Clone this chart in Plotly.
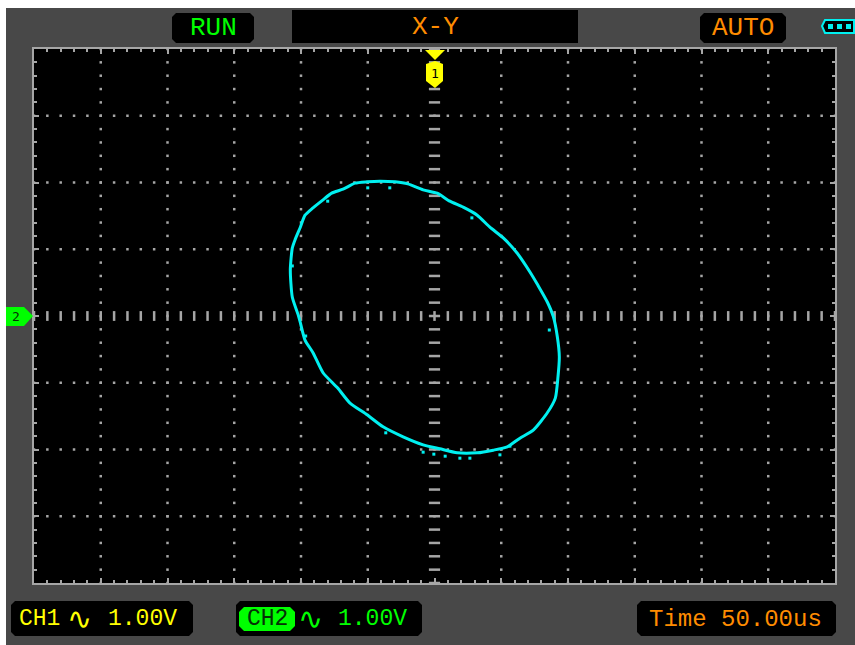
import plotly.graph_objects as go

# Lissajous trace, in divisions (CH1 = CH2 = 1.00 V/div)
ch1_volts = [-2.04,-2.13,-2.16,-2.13,-2.09,-2.01,-1.94,-1.82,-1.67,-1.54,-1.37,-1.19,-1.01,-0.82,-0.59,-0.40,-0.17,0.04,0.23,0.43,0.64,0.83,1.03,1.24,1.43,1.55,1.69,1.78,1.84,1.87,1.85,1.81,1.69,1.48,1.28,1.09,0.88,0.64,0.34,0.08,-0.17,-0.47,-0.77,-1.01,-1.27,-1.45,-1.67,-1.82,-1.94,-2.01,-2.04]
ch2_volts = [0.01,0.28,0.69,1.02,1.14,1.33,1.51,1.62,1.74,1.84,1.90,1.99,2.01,2.02,2.01,1.98,1.89,1.84,1.72,1.63,1.51,1.33,1.17,0.94,0.66,0.46,0.21,-0.01,-0.31,-0.61,-0.91,-1.23,-1.45,-1.71,-1.83,-1.96,-2.01,-2.05,-2.05,-1.99,-1.93,-1.81,-1.66,-1.48,-1.30,-1.08,-0.85,-0.55,-0.36,-0.10,0.01]
stray_ch1 = [-2.13,-1.0,-0.67,-1.6,0.56,-1.93,-0.73,-0.17,-0.01,0.16,0.38,0.53,0.98,1.13,1.72]
stray_ch2 = [0.75,1.92,1.92,1.72,1.47,-0.30,-1.75,-2.04,-2.07,-2.10,-2.13,-2.13,-2.08,-1.95,-0.21]

run_label = "RUN"
mode_label = "X-Y"
trigger_label = "AUTO"
ch1_label = "CH1"
ch2_label = "CH2"
wave_glyph = "∿"
ch_scale = "1.00V"
time_label = "Time 50.00us"

GRID = "#a6a6a6"
CYAN = "#00f0f0"
YELLOW = "#ffff00"
GREEN = "#00ff00"
ORANGE = "#ff8c00"
L, R, T, B = 34, 835, 49, 583

fx = lambda p: (p - L) / (R - L)
fy = lambda p: (B - p) / (B - T)


def rrect(x0, y0, x1, y1, r=4):
    return (f"M{fx(x0+r)},{fy(y0)} L{fx(x1-r)},{fy(y0)} L{fx(x1)},{fy(y0+r)} L{fx(x1)},{fy(y1-r)} "
            f"L{fx(x1-r)},{fy(y1)} L{fx(x0+r)},{fy(y1)} L{fx(x0)},{fy(y1-r)} L{fx(x0)},{fy(y0+r)} Z")


def poly(points):
    return "M" + " L".join(f"{fx(a)},{fy(b)}" for a, b in points) + " Z"


def box(path, fill="#000000", line=None):
    return dict(type="path", xref="paper", yref="paper", path=path, fillcolor=fill,
                line=dict(color=line or fill, width=2 if line else 0), layer="above")


shapes = [
    dict(type="rect", xref="paper", yref="paper", x0=fx(0), x1=fx(855), y0=fy(0), y1=fy(8),
         fillcolor="#ffffff", line_width=0, layer="below"),
    dict(type="rect", xref="paper", yref="paper", x0=fx(0), x1=fx(6), y0=fy(0), y1=fy(645),
         fillcolor="#ffffff", line_width=0, layer="below"),
    box(rrect(172, 13, 254, 43)),
    box(poly([(292, 10), (578, 10), (578, 43), (292, 43)])),
    box(rrect(700, 13, 786, 43)),
    box(rrect(11, 601, 193, 636)),
    box(rrect(236, 601, 422, 636)),
    box(rrect(637, 601, 836, 636)),
    box(rrect(239, 607, 295, 631, 5), fill=GREEN),
    # CH1 ground marker
    box(poly([(425, 50), (445, 50), (435, 60)]), fill=YELLOW),
    box(poly([(435, 61), (443, 64), (443, 81), (435, 88), (426, 81), (426, 64)]), fill=YELLOW),
    # CH2 ground marker
    box(poly([(6, 307), (24, 307), (33, 316), (24, 326), (6, 326)]), fill=GREEN),
    # battery
    box(poly([(825, 20), (854, 20), (854, 33), (825, 33), (822, 26)]), fill="#000000", line=CYAN),
]
for bx in (830, 839, 848):
    shapes.append(box(poly([(bx - 2, 24), (bx + 3, 24), (bx + 3, 29), (bx - 2, 29)]), fill=CYAN))


def note(x, y, text, color, size=25, family="Liberation Mono"):
    return dict(xref="paper", yref="paper", x=fx(x), y=fy(y), text=text, showarrow=False,
                font=dict(family=family, size=size, color=color), xanchor="center", yanchor="middle")


annotations = [
    note(213, 28, run_label, GREEN, 26),
    note(435, 27, mode_label, ORANGE, 26),
    note(743, 28, trigger_label, ORANGE, 26),
    note(39, 619, ch1_label, YELLOW, 23),
    note(79, 618, wave_glyph, YELLOW, 30, "DejaVu Sans"),
    note(142, 619, ch_scale, YELLOW, 23),
    note(267, 619, ch2_label, "#063006", 23),
    note(310, 618, wave_glyph, GREEN, 30, "DejaVu Sans"),
    note(372, 619, ch_scale, GREEN, 23),
    note(735, 619, time_label, ORANGE, 24),
    note(435, 73, "1", "#000000", 13, "DejaVu Sans Mono"),
    note(16, 316, "2", "#063006", 13, "DejaVu Sans Mono"),
]

sub_x = [i / 5 for i in range(-30, 31)]
sub_y = [i / 5 for i in range(-20, 21)]
dot_x, dot_y = [], []
for gy in range(-3, 4):
    if gy:
        dot_x += sub_x
        dot_y += [gy] * len(sub_x)
for gx in range(-5, 6):
    if gx:
        dot_x += [gx] * len(sub_y)
        dot_y += sub_y

fig = go.Figure()
fig.add_trace(go.Scatter(x=dot_x, y=dot_y, mode="markers", hoverinfo="skip",
                         marker=dict(symbol="square", size=2.5, color=GRID, line_width=0)))
fig.add_trace(go.Scatter(x=sub_x, y=[0] * len(sub_x), mode="markers", hoverinfo="skip",
                         marker=dict(symbol="line-ns", size=7, line=dict(color=GRID, width=2.5))))
fig.add_trace(go.Scatter(x=[0] * len(sub_y), y=sub_y, mode="markers", hoverinfo="skip",
                         marker=dict(symbol="line-ew", size=8, line=dict(color=GRID, width=2.5))))
fig.add_trace(go.Scatter(x=ch1_volts, y=ch2_volts, mode="lines", name="X-Y",
                         line=dict(color=CYAN, width=3, shape="spline", smoothing=0.6)))
fig.add_trace(go.Scatter(x=stray_ch1, y=stray_ch2, mode="markers", hoverinfo="skip",
                         marker=dict(symbol="square", size=3, color=CYAN, line_width=0)))

axis = dict(showgrid=False, zeroline=False, showticklabels=False, showline=True, linecolor=GRID,
            linewidth=2, mirror="allticks", ticks="inside", ticklen=5, tickcolor=GRID, tickwidth=1.5,
            dtick=1, fixedrange=True,
            minor=dict(ticks="inside", dtick=0.2, ticklen=3, tickcolor=GRID, tickwidth=1.5, showgrid=False))
fig.update_layout(
    width=855, height=645, showlegend=False,
    margin=dict(l=L, r=855 - R, t=T, b=645 - B, pad=0),
    paper_bgcolor="#484848", plot_bgcolor="#000000",
    xaxis=dict(range=[-6, 6], **axis),
    yaxis=dict(range=[-4, 4], **axis),
    shapes=shapes, annotations=annotations,
)
fig.write_html("out.html", config={"displayModeBar": False},
               post_script="document.body.style.margin='0';document.body.style.overflow='hidden';")
